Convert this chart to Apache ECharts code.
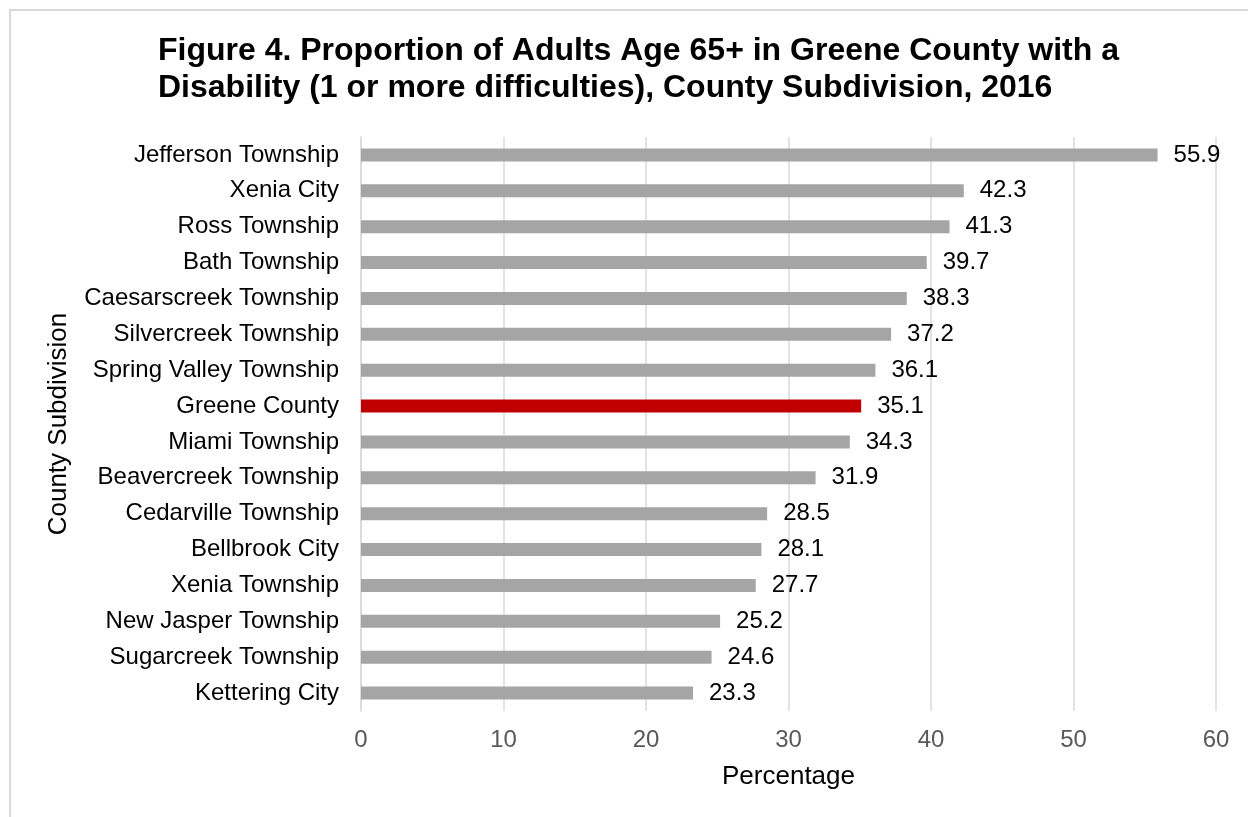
<!DOCTYPE html>
<html>
<head>
<meta charset="utf-8">
<script src="https://cdn.jsdelivr.net/npm/echarts@6/dist/echarts.min.js"></script>
<style>
html,body{margin:0;padding:0;background:#fff;}
#chart{width:1248px;height:817px;}
</style>
</head>
<body>
<div id="chart"></div>
<script>
const categories = ["Jefferson Township","Xenia City","Ross Township","Bath Township","Caesarscreek Township","Silvercreek Township","Spring Valley Township","Greene County","Miami Township","Beavercreek Township","Cedarville Township","Bellbrook City","Xenia Township","New Jasper Township","Sugarcreek Township","Kettering City"];
const values = [55.9,42.3,41.3,39.7,38.3,37.2,36.1,35.1,34.3,31.9,28.5,28.1,27.7,25.2,24.6,23.3];
const highlighted = "Greene County";
const xTicks = [0,10,20,30,40,50,60];

const FONT = "'Liberation Sans', Arial, sans-serif";
const chart = echarts.init(document.getElementById('chart'), null, {renderer:'canvas'});
chart.setOption({
  animation:false,
  backgroundColor:'#ffffff',
  graphic:[{type:'rect',shape:{x:10,y:10,width:1300,height:900},style:{fill:'none',stroke:'#d9d9d9',lineWidth:2},silent:true,z:-1}],
  title:{
    text:'Figure 4. Proportion of Adults Age 65+ in Greene County with a\nDisability (1 or more difficulties), County Subdivision, 2016',
    left:153, top:28,
    textStyle:{fontFamily:FONT,fontSize:32,fontWeight:'bold',color:'#000',lineHeight:37}
  },
  grid:{left:361,right:32,top:137,bottom:106,containLabel:false},
  xAxis:{
    type:'value', min:xTicks[0], max:xTicks[xTicks.length-1], interval:10,
    name:'Percentage', nameLocation:'middle', nameGap:53,
    nameTextStyle:{fontFamily:FONT,fontSize:26,color:'#000'},
    axisLine:{show:false}, axisTick:{show:false},
    axisLabel:{fontFamily:FONT,fontSize:24,color:'#595959',margin:17},
    splitLine:{show:true,lineStyle:{color:'#d9d9d9',width:1.5}}
  },
  yAxis:{
    type:'category', data:categories, inverse:true,
    name:'County Subdivision', nameLocation:'middle', nameGap:289, nameRotate:90,
    nameTextStyle:{fontFamily:FONT,fontSize:26,color:'#000'},
    axisLine:{show:true,lineStyle:{color:'#d9d9d9',width:1.5}}, axisTick:{show:false},
    axisLabel:{fontFamily:FONT,fontSize:24,color:'#000',margin:22},
    splitLine:{show:false}
  },
  series:[{
    type:'bar', barWidth:13,
    data: values.map((v,i)=>({value:v,itemStyle:{color: categories[i]===highlighted ? '#c00000' : '#a5a5a5'}})),
    label:{show:true,position:'right',distance:16,fontFamily:FONT,fontSize:24,color:'#000'}
  }]
});
</script>
</body>
</html>
